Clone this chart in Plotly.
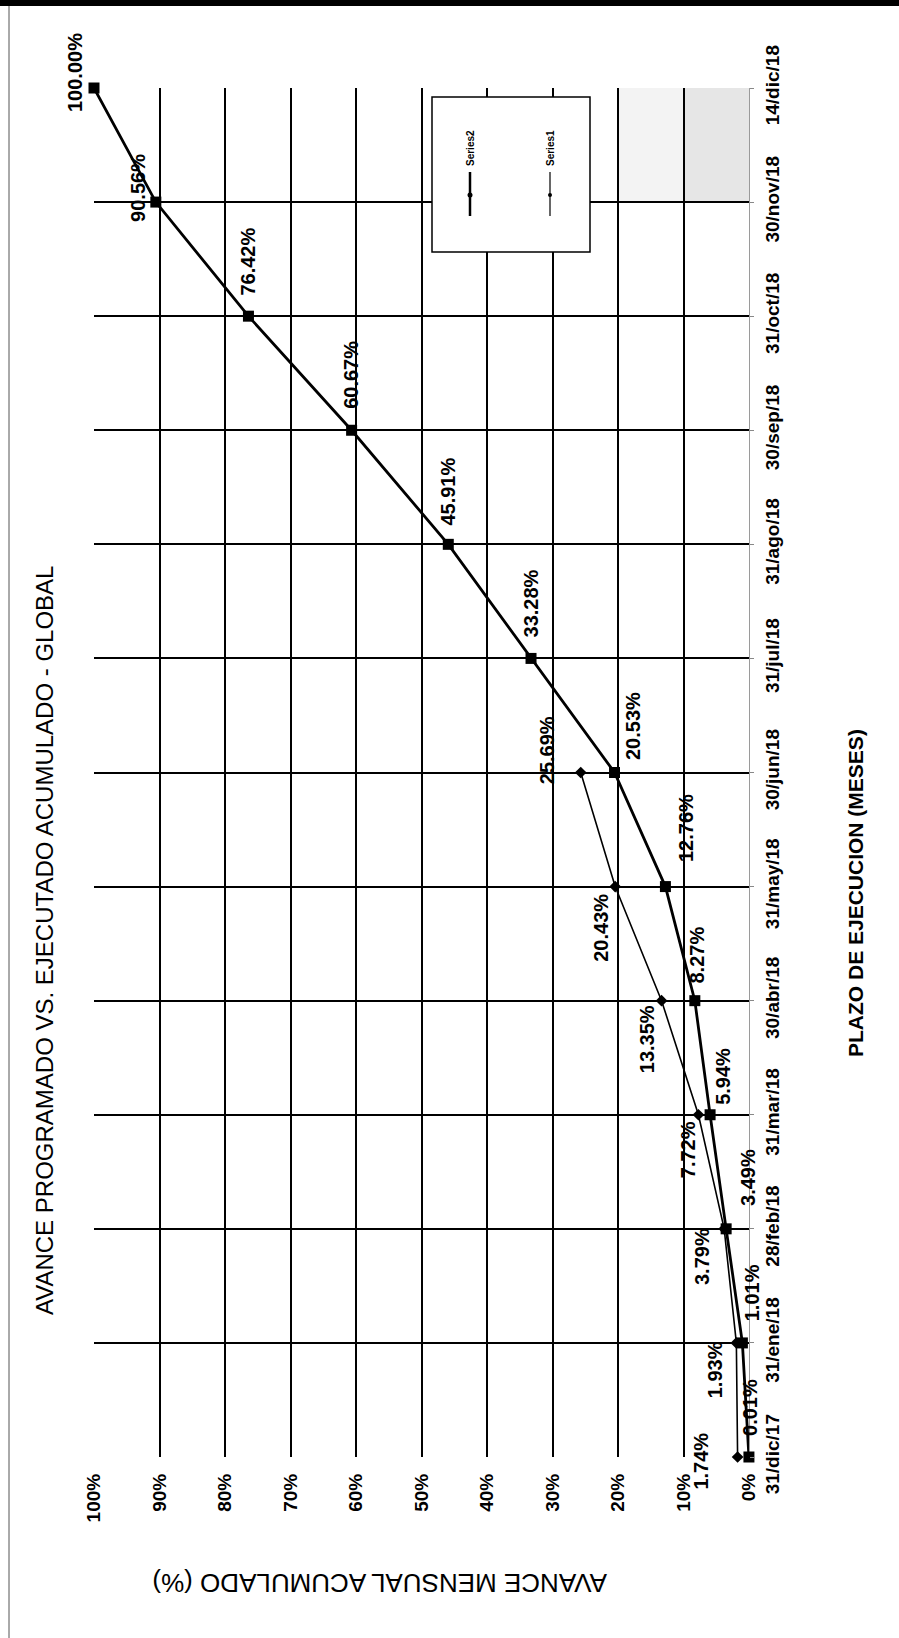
import plotly.graph_objects as go

# ---- data ----
dates = ["31/dic/17", "31/ene/18", "28/feb/18", "31/mar/18", "30/abr/18", "31/may/18",
         "30/jun/18", "31/jul/18", "31/ago/18", "30/sep/18", "31/oct/18", "30/nov/18", "14/dic/18"]
serie2 = [0.01, 1.01, 3.49, 5.94, 8.27, 12.76, 20.53, 33.28, 45.91, 60.67, 76.42, 90.56, 100.00]
serie1 = [1.74, 1.93, 3.79, 7.72, 13.35, 20.43, 25.69]
pct_ticks = [0, 10, 20, 30, 40, 50, 60, 70, 80, 90, 100]
pct_ticklabels = [f"{v}%" for v in pct_ticks]

title = "AVANCE PROGRAMADO VS. EJECUTADO ACUMULADO - GLOBAL"
xtitle = "PLAZO DE EJECUCION (MESES)"
ytitle = "AVANCE MENSUAL ACUMULADO (%)"

# ---- styling / layout ----
W, H = 899, 1638
L, R, T, B = 94, 749, 88, 1457
FONT = "Liberation Sans, Arial, sans-serif"


def px(xp):
    return (xp - L) / (R - L)


def py(yp):
    return (B - yp) / (B - T)


# label offsets (pixels: dx right, dy up)
off2 = [(1, 50), (10, 50), (22, 51), (13, 38), (2, 46), (20, 59), (18, 46),
        (0, 55), (0, 53), (0, 55), (0, 55), (-18, 14), (-19, 15)]
off1 = [(-37, -4), (-21, -27), (-22, -28), (-11, -35), (-15, -39), (-15, -41), (-34, 22)]

fig = go.Figure()

fig.add_trace(go.Scatter(
    x=serie1, y=dates[:len(serie1)], mode="lines+markers", name="Series1",
    line=dict(color="black", width=1.6),
    marker=dict(symbol="diamond", size=9, color="black"),
    cliponaxis=False, showlegend=False))
fig.add_trace(go.Scatter(
    x=serie2, y=dates, mode="lines+markers", name="Series2",
    line=dict(color="black", width=2.8),
    marker=dict(symbol="square", size=11, color="black"),
    cliponaxis=False, showlegend=False))

annotations = []
for v, d, (dx, dy) in zip(serie2, dates, off2):
    annotations.append(dict(x=v, y=d, xref="x", yref="y", text=f"<b>{v:.2f}%</b>", showarrow=False,
                            textangle=-90, xshift=dx, yshift=dy, xanchor="center", yanchor="middle",
                            font=dict(family=FONT, size=20, color="black")))
for v, d, (dx, dy) in zip(serie1, dates, off1):
    annotations.append(dict(x=v, y=d, xref="x", yref="y", text=f"<b>{v:.2f}%</b>", showarrow=False,
                            textangle=-90, xshift=dx, yshift=dy, xanchor="center", yanchor="middle",
                            font=dict(family=FONT, size=20, color="black")))


def paper_text(x, y, text, size, angle, bold=False):
    return dict(x=px(x), y=py(y), xref="paper", yref="paper",
                text=f"<b>{text}</b>" if bold else text,
                showarrow=False, textangle=angle, xanchor="center", yanchor="middle",
                font=dict(family=FONT, size=size, color="black"))


annotations.append(paper_text(44, 941, title, 24, -90))
annotations.append(paper_text(856, 893, xtitle, 21, -90, bold=True))
annotations.append(paper_text(380, 1583, ytitle, 26, 180))
annotations.append(paper_text(470, 148, "Series2", 10, -90, bold=True))
annotations.append(paper_text(550, 148, "Series1", 10, -90, bold=True))

shapes = [
    # stippled area in the last period
    dict(type="rect", xref="x", yref="y", x0=10, x1=20, y0=11, y1=12,
         fillcolor="#f3f3f3", line=dict(width=0), layer="below"),
    dict(type="rect", xref="x", yref="y", x0=0, x1=10, y0=11, y1=12,
         fillcolor="#e6e6e6", line=dict(width=0), layer="below"),
    # legend box
    dict(type="rect", xref="paper", yref="paper", x0=px(432), x1=px(590), y0=py(252), y1=py(97),
         fillcolor="white", line=dict(color="black", width=1.5), layer="above"),
    dict(type="line", xref="paper", yref="paper", x0=px(470), x1=px(470), y0=py(216), y1=py(172),
         line=dict(color="black", width=2.5), layer="above"),
    dict(type="line", xref="paper", yref="paper", x0=px(550), x1=px(550), y0=py(216), y1=py(172),
         line=dict(color="black", width=1.2), layer="above"),
    dict(type="circle", xref="paper", yref="paper", x0=px(467.5), x1=px(472.5), y0=py(197.5), y1=py(192.5),
         fillcolor="black", line=dict(width=0), layer="above"),
    dict(type="circle", xref="paper", yref="paper", x0=px(548), x1=px(552), y0=py(197), y1=py(193),
         fillcolor="black", line=dict(width=0), layer="above"),
    # page frame from the scan
    dict(type="rect", xref="paper", yref="paper", x0=px(0), x1=px(899), y0=py(6), y1=py(0),
         fillcolor="black", line=dict(width=0), layer="above"),
    dict(type="line", xref="paper", yref="paper", x0=px(9), x1=px(9), y0=py(1638), y1=py(6),
         line=dict(color="#555555", width=1), layer="above"),
]

fig.update_layout(
    width=W, height=H,
    margin=dict(l=L, r=W - R, t=T, b=H - B, pad=0),
    paper_bgcolor="white", plot_bgcolor="rgba(0,0,0,0)",
    font=dict(family=FONT, size=19, color="black"),
    annotations=annotations, shapes=shapes, showlegend=False,
    xaxis=dict(range=[100, 0], tickvals=pct_ticks, ticktext=[f"<b>{t}</b>" for t in pct_ticklabels],
               tickangle=-90,
               showgrid=True, gridcolor="black", gridwidth=1.6,
               zeroline=True, zerolinecolor="#9a9a9a", zerolinewidth=1,
               showline=False, ticks="", ticklabelstandoff=12,
               tickfont=dict(family=FONT, size=19, color="black")),
    yaxis=dict(type="category", categoryorder="array", categoryarray=dates, range=[0, 12],
               tickvals=dates, ticktext=[f"<b>{d}</b>" for d in dates],
               side="right", tickangle=-90, showgrid=True, gridcolor="black", gridwidth=1.6,
               zeroline=False, showline=False, ticks="outside", ticklen=4, tickcolor="#888888",
               ticklabelstandoff=2,
               tickfont=dict(family=FONT, size=19, color="black")),
)

fig.write_html("out.html", config={"displayModeBar": False},
               post_script="document.body.style.margin='0';document.body.style.overflow='hidden';")
